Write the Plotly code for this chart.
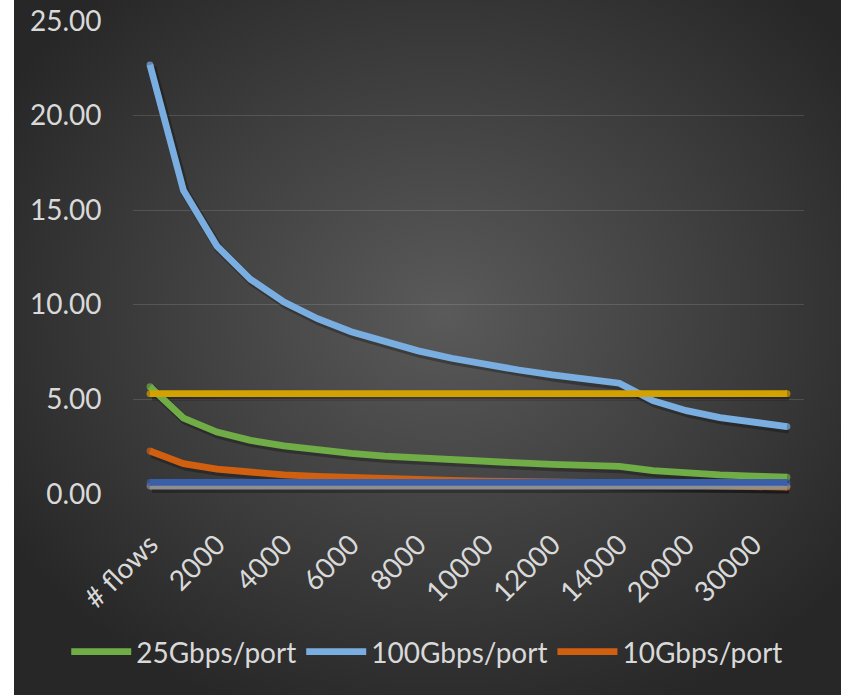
import base64
import plotly.graph_objects as go

W, H = 841, 695

categories = ["# flows", "1000", "2000", "3000", "4000", "5000", "6000", "7000", "8000",
              "9000", "10000", "11000", "12000", "13000", "14000", "15000", "20000",
              "25000", "30000", "35000"]
tick_labels = ["# flows", "2000", "4000", "6000", "8000", "10000", "12000", "14000",
               "20000", "30000"]

g25 = [5.67, 4.01, 3.27, 2.83, 2.54, 2.31, 2.14, 2.00, 1.89, 1.79, 1.71, 1.64, 1.57,
       1.52, 1.46, 1.23, 1.10, 1.01, 0.94, 0.89]
g100 = [22.67, 16.03, 13.09, 11.34, 10.14, 9.26, 8.57, 8.02, 7.56, 7.17, 6.84, 6.55,
        6.29, 6.06, 5.85, 4.93, 4.40, 4.03, 3.77, 3.56]
g10 = [2.27, 1.60, 1.31, 1.13, 1.01, 0.93, 0.86, 0.80, 0.76, 0.72, 0.68, 0.66, 0.63,
       0.61, 0.59, 0.49, 0.44, 0.40, 0.38, 0.36]
gray_line = [0.42] * 20
gold_line = [5.30] * 20
navy_line = [0.61] * 20

y_ticks = [0, 5, 10, 15, 20, 25]

series = [
    ("25Gbps/port", g25, "#70ad47", True),
    ("100Gbps/port", g100, "#7aaee0", True),
    ("10Gbps/port", g10, "#d0600f", True),
    ("Series 4", gray_line, "#8f8f8f", False),
    ("Series 5", gold_line, "#d4a200", False),
    ("Series 6", navy_line, "#3b5ea8", False),
]

LW = 6.8
n = len(categories)
cap_sizes = [LW] + [0] * (n - 2) + [LW]

fig = go.Figure()
# soft drop shadows (drawn on a slightly offset axis pair)
for name, vals, color, show in series:
    fig.add_trace(go.Scatter(
        x=categories, y=vals, mode="lines", hoverinfo="skip",
        line=dict(color="rgba(0,0,0,0.28)", width=LW + 2),
        showlegend=False, xaxis="x", yaxis="y",
    ))
for name, vals, color, show in series:
    fig.add_trace(go.Scatter(
        x=categories, y=vals, name=name, mode="lines+markers",
        line=dict(color=color, width=LW),
        marker=dict(size=cap_sizes, color=color, line=dict(width=0)),
        showlegend=show, xaxis="x2", yaxis="y2",
    ))

svg = f'''<svg xmlns="http://www.w3.org/2000/svg" width="827" height="695" viewBox="0 0 827 695">
<defs><radialGradient id="g" cx="0.52" cy="0.45" r="0.62" fx="0.52" fy="0.45">
<stop offset="0" stop-color="#5a5a5a"/><stop offset="1" stop-color="#272727"/>
</radialGradient></defs><rect width="827" height="695" fill="url(#g)"/></svg>'''
src = "data:image/svg+xml;base64," + base64.b64encode(svg.encode()).decode()

x0, x1 = 133.2 / W, 803.8 / W
y0, y1 = 1 - 494 / H, 1 - 20.7 / H
px_x = 20 / (803.8 - 133.2)      # category units per pixel
px_y = 25 / (494 - 20.7)         # value units per pixel
sx, sy = 2.0, 2.5                # shadow offset in pixels

font = "Lato, 'Open Sans', sans-serif"
tf = dict(size=28, color="#d9d9d9")
fig.update_layout(
    width=W, height=H,
    margin=dict(l=0, r=0, t=0, b=0),
    paper_bgcolor="white",
    plot_bgcolor="rgba(0,0,0,0)",
    images=[dict(source=src, xref="paper", yref="paper", x=14 / W, y=1,
                 sizex=1 - 14 / W, sizey=1, sizing="stretch", layer="below",
                 xanchor="left", yanchor="top")],
    font=dict(family=font, size=28, color="#d9d9d9"),
    xaxis=dict(domain=[x0, x1], type="category",
               range=[-0.5 - sx * px_x, 19.5 - sx * px_x],
               visible=False, showgrid=False, zeroline=False),
    yaxis=dict(domain=[y0, y1], range=[0 + sy * px_y, 25 + sy * px_y],
               visible=False, showgrid=False, zeroline=False),
    xaxis2=dict(overlaying="x", anchor="y2", type="category", range=[-0.5, 19.5],
                tickmode="array", tickvals=categories[::2], ticktext=tick_labels,
                tickangle=-45, showgrid=False, zeroline=False, showline=False,
                ticks="outside", ticklen=22, tickcolor="rgba(0,0,0,0)",
                automargin=False, tickfont=tf),
    yaxis2=dict(overlaying="y", anchor="x2", range=[0, 25], tickvals=y_ticks,
                tickformat=".2f", showgrid=True, gridcolor="rgba(255,255,255,0.13)",
                gridwidth=1.2, zeroline=False, showline=False,
                ticks="outside", ticklen=25, tickcolor="rgba(0,0,0,0)",
                automargin=False, tickfont=tf),
    legend=dict(orientation="h", x=0.508, xanchor="center", y=1 - 652 / H,
                yanchor="middle", bgcolor="rgba(0,0,0,0)",
                font=tf, itemwidth=60, tracegroupgap=0),
    showlegend=True,
)

fig.write_html("out.html")
